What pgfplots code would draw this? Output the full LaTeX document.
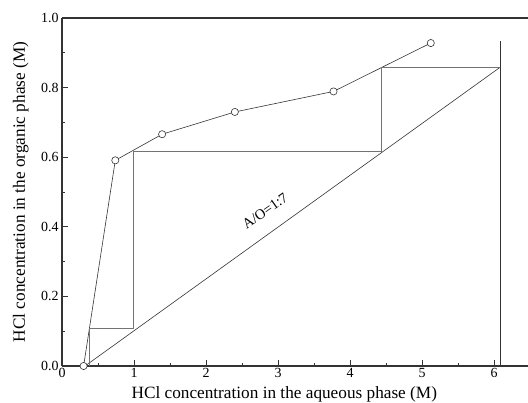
\documentclass[border=0pt]{standalone}
\usepackage{fontspec}
\setmainfont{Liberation Serif}
\usepackage{pgfplots}
\pgfplotsset{compat=1.18}
\usetikzlibrary{calc}
\definecolor{stair}{gray}{0.45}
\definecolor{ink}{gray}{0.2}
\begin{document}
\begin{tikzpicture}
\begin{axis}[
    name=ax,
    scale only axis,
    width=466bp, height=348bp,
    xmin=0, xmax=6.47,
    ymin=0, ymax=1,
    axis x line*=box, axis y line*=left,
    xtick pos=bottom, ytick pos=left,
    tick align=inside,
    xtick={0,1,2,3,4,5,6},
    ytick={0,0.2,0.4,0.6,0.8,1.0},
    minor x tick num=1, minor y tick num=1,
    major tick length=6bp, minor tick length=3.5bp,
    axis line style={line width=1.4pt, ink},
    every tick/.style={line width=0.9pt, ink},
    /pgf/number format/assume math mode=true,
    ticklabel style={font=\fontsize{14}{16}\selectfont},
    xticklabel style={yshift=1bp},
    yticklabel style={/pgf/number format/.cd, fixed, fixed zerofill, precision=1},
    xlabel={HCl concentration in the aqueous phase (M)},
    ylabel={HCl concentration in the organic phase (M)},
    label style={font=\fontsize{17.3}{19}\selectfont},
    xlabel style={at={($(rel axis cs:0.477,0)+(0,-32.5bp)$)}, anchor=base},
    ylabel style={at={($(rel axis cs:0,0.5)+(-37bp,0)$)}, anchor=base, rotate=0},
]
% equilibrium curve
\addplot[ink, line width=0.6pt, mark=*, mark size=3.6bp,
    mark options={fill=white, draw=ink, line width=0.6pt}] coordinates {
    (0.30,0.000) (0.74,0.591) (1.39,0.666) (2.40,0.730) (3.77,0.789) (5.12,0.928)
};
% operating line
\addplot[ink, line width=0.6pt] coordinates {(0.32,0) (6.08,0.858)};
% stages
\addplot[stair, line width=0.8pt] coordinates {
    (0.38,0) (0.38,0.108) (0.99,0.108) (0.99,0.616) (4.43,0.616) (4.43,0.857) (6.08,0.857)
};
% feed line
\addplot[ink, line width=0.6pt] coordinates {(6.08,0) (6.08,0.933)};
\node[rotate=35, font=\fontsize{14.5}{16}\selectfont] at (axis cs:2.82,0.445) {A/O=1:7};
\end{axis}
\pgfresetboundingbox
\path ($(ax.south west)+(-62bp,-37bp)$) rectangle ($(ax.north east)+(0,18bp)$);
\end{tikzpicture}
\end{document}
